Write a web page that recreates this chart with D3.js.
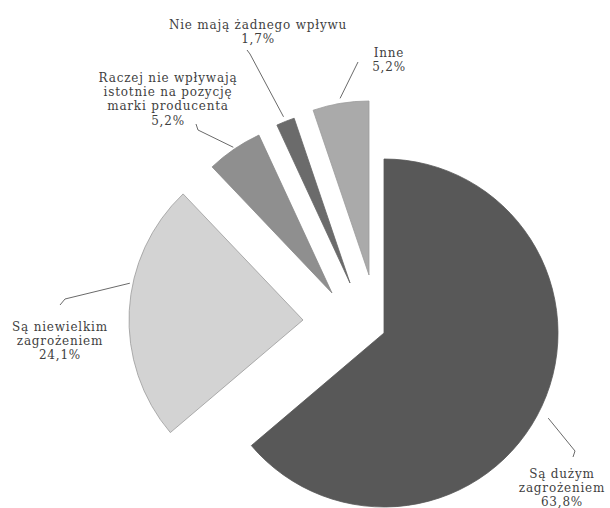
<!DOCTYPE html>
<html>
<head>
<meta charset="utf-8">
<script src="https://cdn.jsdelivr.net/npm/d3@7"></script>
<style>
  body { margin: 0; background: #fff; }
</style>
</head>
<body>
<div id="chart"></div>
<script>
// data
const categories = [
  ["Są dużym", "zagrożeniem"],
  ["Są niewielkim", "zagrożeniem"],
  ["Raczej nie wpływają", "istotnie na pozycję", "marki producenta"],
  ["Nie mają żadnego wpływu"],
  ["Inne"]
];
const values = [63.8, 24.1, 5.2, 1.7, 5.2];

// styles / layout
const fills = ["#585858", "#d3d3d3", "#8f8f8f", "#6b6b6b", "#aaaaaa"];
const strokes = ["#585858", "#9a9a9a", "#888", "#666", "#9c9c9c"];
const explode = [[24, 15], [-57, 2], [-28, -25], [-10, -35], [9, -43]];
const labelPos = [[562, 478], [60, 331], [168, 82], [258, 29], [389, 57]];
const lineHeight = 14.2;
const leaderAngle = [117.4, 282, 325.9, 338.2, 350.7];
const leaderGap = [11, 3, 2, 5, 5];
const leaderTail = [
  [[575, 451], [573, 457]],
  [[65, 299], [60, 305]],
  [[198, 130], [196, 124]],
  [[250, 54], [247, 50]],
  [[358, 62]]
];

const width = 610, height = 508;
const cx = 360, cy = 318, radius = 174;

const svg = d3.select("#chart")
  .append("svg")
  .attr("width", width)
  .attr("height", height);

svg.append("rect").attr("width", width).attr("height", height).attr("fill", "#fff");

const pie = d3.pie().sort(null).startAngle(0).endAngle(2 * Math.PI);
const arc = d3.arc().innerRadius(0).outerRadius(radius);
const slices = pie(values);

const fmt = v => d3.format(".1f")(v).replace(".", ",") + "%";

svg.selectAll("path.slice")
  .data(slices)
  .join("path")
  .attr("class", "slice")
  .attr("transform", (d, i) => `translate(${cx + explode[i][0]},${cy + explode[i][1]})`)
  .attr("d", arc)
  .attr("fill", (d, i) => fills[i])
  .attr("stroke", (d, i) => strokes[i])
  .attr("stroke-width", 0.8);

// leader lines
const line = d3.line();
slices.forEach((d, i) => {
  const a = leaderAngle[i] * Math.PI / 180;
  const r = radius + leaderGap[i];
  const start = [cx + explode[i][0] + r * Math.sin(a), cy + explode[i][1] - r * Math.cos(a)];
  svg.append("path")
    .attr("d", line([start, ...leaderTail[i]]))
    .attr("fill", "none")
    .attr("stroke", "#6a6a6a")
    .attr("stroke-width", 1);
});

// labels
const labels = svg.selectAll("text.lbl")
  .data(slices)
  .join("text")
  .attr("class", "lbl")
  .attr("x", (d, i) => labelPos[i][0])
  .attr("y", (d, i) => labelPos[i][1])
  .attr("text-anchor", "middle")
  .style("font-family", "'DejaVu Serif', serif")
  .style("font-size", "12px")
  .style("letter-spacing", "0.8px")
  .style("fill", "#3f3f3f");

labels.each(function(d, i) {
  const lines = [...categories[i], fmt(values[i])];
  d3.select(this).selectAll("tspan")
    .data(lines)
    .join("tspan")
    .attr("x", labelPos[i][0])
    .attr("dy", (t, j) => j === 0 ? 0 : lineHeight)
    .text(t => t);
});
</script>
</body>
</html>
